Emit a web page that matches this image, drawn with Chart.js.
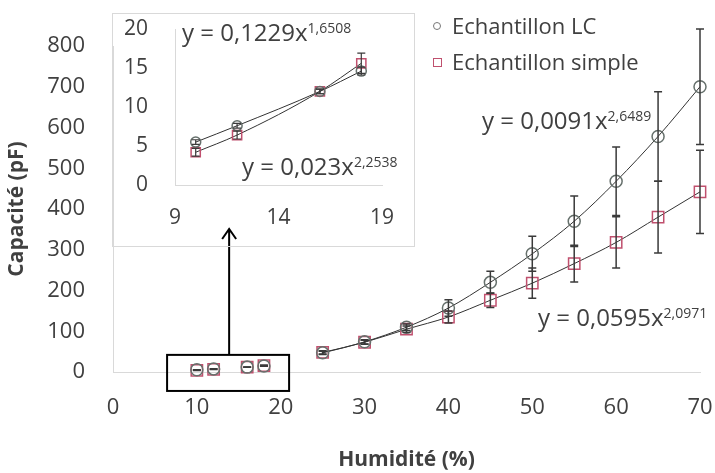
<!DOCTYPE html>
<html lang="fr">
<head>
<meta charset="utf-8">
<script src="https://cdn.jsdelivr.net/npm/chart.js@4.4.1/dist/chart.umd.min.js"></script>
<style>
  body { margin: 0; background: #fff; }
  #wrap { position: relative; width: 715px; height: 473px; font-family: 'Open Sans', sans-serif; color: #404040; }
  #main, #inset { position: absolute; }
  #main { left: 0; top: 0; }
  #inset { left: 112px; top: 13px; }
  #insetBox { position: absolute; left: 112px; top: 13px; width: 303px; height: 234px; box-sizing: border-box; border: 1px solid #d9d9d9; }
  .txt { position: absolute; white-space: nowrap; }
  .eq { font-size: 24px; line-height: 24px; }
  .eq sup { font-size: 14px; vertical-align: baseline; position: relative; top: -8px; }
  .leg { font-size: 22px; line-height: 22px; }
  .mk { position: absolute; box-sizing: border-box; }
</style>
</head>
<body>
<div id="wrap">
  <canvas id="main" width="715" height="473"></canvas>
  <div id="insetBox"></div>
  <canvas id="inset" width="303" height="234"></canvas>

  <div class="mk" style="left:433px;top:22px;width:8px;height:8px;border:1px solid #777;border-radius:50%"></div>
  <div class="txt leg" style="left:452px;top:14px">Echantillon LC</div>
  <div class="mk" style="left:433px;top:58px;width:9px;height:9px;border:1px solid #c0506e"></div>
  <div class="txt leg" style="left:452px;top:50px">Echantillon simple</div>

  <div class="txt eq" style="left:482px;top:108px">y = 0,0091x<sup>2,6489</sup></div>
  <div class="txt eq" style="left:538px;top:305px">y = 0,0595x<sup>2,0971</sup></div>
  <div class="txt eq" style="left:182px;top:20px">y = 0,1229x<sup>1,6508</sup></div>
  <div class="txt eq" style="left:242px;top:154px">y = 0,023x<sup>2,2538</sup></div>
</div>
<script>
(function () {
  'use strict';

  // Humidité (%) et capacité mesurée (pF), avec écarts-types
  const humidite = [10, 12, 16, 18, 25, 30, 35, 40, 45, 50, 55, 60, 65, 70];
  const capaLC = [5.5, 7.6, 12, 14.6, 47, 74, 110, 157, 220, 290, 370, 468, 578, 700];
  const errLC = [0.3, 0.3, 0.3, 0.5, 4, 5, 8, 20, 27, 43, 62, 84, 110, 142];
  const capaSimple = [4.2, 6.4, 12, 15.6, 48, 73, 105, 135, 176, 218, 266, 318, 380, 442];
  const errSimple = [0.5, 0.5, 0.3, 1.3, 4, 5, 8, 15, 18, 37, 45, 63, 88, 102];

  const mainXTicks = [0, 10, 20, 30, 40, 50, 60, 70];
  const mainYTicks = [0, 100, 200, 300, 400, 500, 600, 700, 800];
  const insetXTicks = [9, 14, 19];
  const insetYTicks = [0, 5, 10, 15, 20];

  const INSET_N = 4; // les 4 premiers points sont repris dans l'encart

  const TXT = '#404040';
  const AXIS = '#d9d9d9';
  const LC_COLOR = '#66706c';
  const SIMPLE_COLOR = '#c0506e';

  function pts(xs, ys) {
    return xs.map((x, i) => ({ x: x, y: ys[i] }));
  }

  // fixed axis box, no extra label padding (layout.padding handles it)
  function fixSize(prop, size) {
    return (s) => {
      s[prop] = size;
      s.paddingTop = s.paddingBottom = s.paddingLeft = s.paddingRight = 0;
    };
  }

  // Barres d'erreur dessinées via les échelles du graphique
  const errorBars = {
    id: 'errorBars',
    afterDatasetsDraw(chart, args, opts) {
      const ctx = chart.ctx;
      const xs = chart.scales.x, ys = chart.scales.y;
      ctx.save();
      ctx.strokeStyle = '#3a3a3a';
      ctx.lineWidth = opts.width || 1.5;
      chart.data.datasets.forEach((ds) => {
        if (!ds.errors) return;
        ds.data.forEach((p, j) => {
          const e = ds.errors[j];
          const px = xs.getPixelForValue(p.x);
          const top = ys.getPixelForValue(p.y + e);
          const bot = ys.getPixelForValue(p.y - e);
          const c = opts.cap || 4;
          ctx.beginPath();
          ctx.moveTo(px, top); ctx.lineTo(px, bot);
          ctx.moveTo(px - c, top); ctx.lineTo(px + c, top);
          ctx.moveTo(px - c, bot); ctx.lineTo(px + c, bot);
          ctx.stroke();
        });
      });
      ctx.restore();
    }
  };

  // Cadre autour des faibles humidités et flèche vers l'encart
  const zoomBox = {
    id: 'zoomBox',
    afterDraw(chart) {
      const ctx = chart.ctx;
      const xs = chart.scales.x, ys = chart.scales.y;
      const l = xs.getPixelForValue(6.45), r = xs.getPixelForValue(21);
      const t = ys.getPixelForValue(42), b = ys.getPixelForValue(-46.5);
      const ax = xs.getPixelForValue(13.85), tip = ys.getPixelForValue(351);
      ctx.save();
      ctx.strokeStyle = '#000';
      ctx.lineWidth = 2;
      ctx.strokeRect(l, t, r - l, b - t);
      ctx.beginPath();
      ctx.moveTo(ax, t); ctx.lineTo(ax, tip);
      ctx.moveTo(ax - 7, tip + 10); ctx.lineTo(ax, tip); ctx.lineTo(ax + 7, tip + 10);
      ctx.stroke();
      ctx.restore();
    }
  };

  const hideLow = (c) => c.p0.parsed.x < 20 ? 'rgba(0,0,0,0)' : undefined;

  new Chart(document.getElementById('main'), {
    type: 'line',
    data: {
      datasets: [{
        label: 'Echantillon LC',
        data: pts(humidite, capaLC),
        errors: errLC,
        borderColor: '#333',
        borderWidth: 1,
        cubicInterpolationMode: 'monotone',
        segment: { borderColor: hideLow },
        pointStyle: 'circle',
        pointRadius: 6,
        pointBorderWidth: 1.5,
        pointBorderColor: LC_COLOR,
        pointBackgroundColor: 'rgba(0,0,0,0)',
        clip: false,
      }, {
        label: 'Echantillon simple',
        data: pts(humidite, capaSimple),
        errors: errSimple,
        borderColor: '#333',
        borderWidth: 1,
        cubicInterpolationMode: 'monotone',
        segment: { borderColor: hideLow },
        pointStyle: 'rect',
        pointRadius: 8,
        pointBorderWidth: 1.5,
        pointBorderColor: SIMPLE_COLOR,
        pointBackgroundColor: 'rgba(0,0,0,0)',
        clip: false,
      }],
    },
    options: {
      responsive: false,
      animation: false,
      layout: { autoPadding: false, padding: { top: 46, right: 15, left: 0, bottom: 0 } },
      plugins: {
        legend: { display: false },
        tooltip: { enabled: false },
        errorBars: { width: 1.5, cap: 4 },
      },
      scales: {
        x: {
          type: 'linear',
          min: 0, max: 70,
          afterFit: fixSize('height', 101),
          afterBuildTicks: (s) => { s.ticks = mainXTicks.map((v) => ({ value: v })); },
          grid: { display: false, drawTicks: false },
          border: { color: AXIS, width: 1 },
          ticks: { padding: 23, color: TXT, font: { family: 'Open Sans', size: 22 } },
          title: {
            display: true, text: 'Humidité (%)', color: TXT,
            font: { family: 'Open Sans', size: 21, weight: 'bold' },
            padding: { bottom: 0 },
          },
        },
        y: {
          min: 0, max: 800,
          afterFit: fixSize('width', 113),
          afterBuildTicks: (s) => { s.ticks = mainYTicks.map((v) => ({ value: v })); },
          grid: { display: false, drawTicks: false },
          border: { color: AXIS, width: 1 },
          ticks: { padding: 28, color: TXT, font: { family: 'Open Sans', size: 22 } },
          title: {
            display: true, text: 'Capacité (pF)', color: TXT,
            font: { family: 'Open Sans', size: 21, weight: 'bold' },
            padding: { top: 4 },
          },
        },
      },
    },
    plugins: [errorBars, zoomBox],
  });

  // Encart : zoom sur 9-19 % d'humidité
  new Chart(document.getElementById('inset'), {
    type: 'line',
    data: {
      datasets: [{
        label: 'Echantillon LC',
        data: pts(humidite.slice(0, INSET_N), capaLC.slice(0, INSET_N)),
        errors: errLC.slice(0, INSET_N),
        borderColor: '#333',
        borderWidth: 1,
        cubicInterpolationMode: 'monotone',
        pointStyle: 'circle',
        pointRadius: 5,
        pointBorderWidth: 1.5,
        pointBorderColor: LC_COLOR,
        pointBackgroundColor: 'rgba(0,0,0,0)',
        clip: false,
      }, {
        label: 'Echantillon simple',
        data: pts(humidite.slice(0, INSET_N), capaSimple.slice(0, INSET_N)),
        errors: errSimple.slice(0, INSET_N),
        borderColor: '#333',
        borderWidth: 1,
        cubicInterpolationMode: 'monotone',
        pointStyle: 'rect',
        pointRadius: 6.5,
        pointBorderWidth: 1.5,
        pointBorderColor: SIMPLE_COLOR,
        pointBackgroundColor: 'rgba(0,0,0,0)',
        clip: false,
      }],
    },
    options: {
      responsive: false,
      animation: false,
      layout: { autoPadding: false, padding: { top: 16, right: 33, left: 0, bottom: 0 } },
      plugins: {
        legend: { display: false },
        tooltip: { enabled: false },
        errorBars: { width: 1.2, cap: 4 },
      },
      scales: {
        x: {
          type: 'linear',
          min: 9, max: 19,
          afterFit: fixSize('height', 62),
          afterBuildTicks: (s) => { s.ticks = insetXTicks.map((v) => ({ value: v })); },
          grid: { display: false, drawTicks: false },
          border: { color: AXIS, width: 1 },
          ticks: { padding: 20, color: TXT, font: { family: 'Open Sans', size: 21 } },
        },
        y: {
          min: 0, max: 20,
          afterFit: fixSize('width', 63),
          afterBuildTicks: (s) => { s.ticks = insetYTicks.map((v) => ({ value: v })); },
          grid: { display: false, drawTicks: false },
          border: { color: AXIS, width: 1 },
          ticks: { padding: 27, color: TXT, font: { family: 'Open Sans', size: 21 } },
        },
      },
    },
    plugins: [errorBars],
  });
})();
</script>
</body>
</html>
